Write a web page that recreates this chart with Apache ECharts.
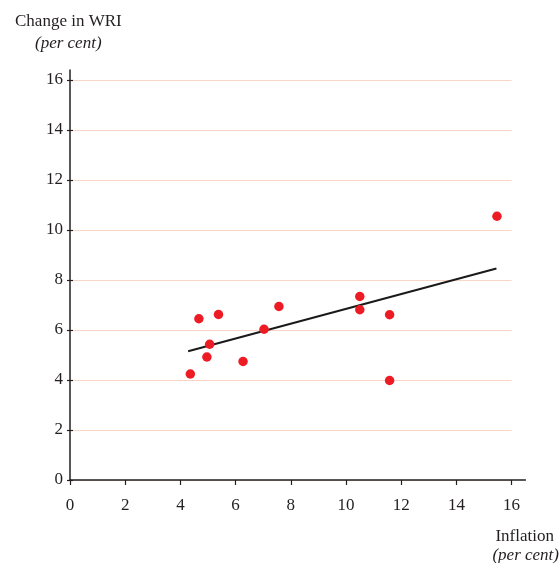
<!DOCTYPE html>
<html>
<head>
<meta charset="utf-8">
<script src="https://cdn.jsdelivr.net/npm/echarts@6/dist/echarts.min.js"></script>
<style>html,body{margin:0;padding:0;background:#fff;}#c{width:559px;height:563px;}</style>
</head>
<body>
<div id="c"></div>
<script>
const inflation = [4.36, 4.67, 4.96, 5.06, 5.38, 6.27, 7.03, 7.57, 10.50, 10.50, 11.58, 11.58, 15.47];
const wriChange = [4.24, 6.45, 4.92, 5.43, 6.62, 4.74, 6.03, 6.94, 7.34, 6.81, 6.61, 3.98, 10.55];
const trendX = [4.28, 15.45];
const trendY = [5.15, 8.46];
const xTicks = [0, 2, 4, 6, 8, 10, 12, 14, 16];
const yTicks = [0, 2, 4, 6, 8, 10, 12, 14, 16];

const FONT = "'Liberation Serif', 'Times New Roman', serif";
const AXIS = '#231f20';
const GRID = '#f7d6c8';

const points = inflation.map((x, i) => [x, wriChange[i]]);
const trend = trendX.map((x, i) => [x, trendY[i]]);

const chart = echarts.init(document.getElementById('c'), null, {renderer: 'canvas'});
chart.setOption({
  animation: false,
  backgroundColor: '#fff',
  grid: [
    {left: 70, right: 33.6, top: 70, bottom: 83, containLabel: false},
    {left: 70, width: 441.6, top: 80, bottom: 83, containLabel: false}
  ],
  xAxis: [{
    gridIndex: 0, type: 'value', min: 0, max: 16.5, z: 3,
    axisLine: {show: true, lineStyle: {color: AXIS, width: 1.5}},
    axisTick: {show: true, length: 5, lineStyle: {color: AXIS, width: 1.2}, customValues: xTicks},
    axisLabel: {color: AXIS, fontFamily: FONT, fontSize: 17, margin: 17, customValues: xTicks},
    splitLine: {show: false}
  }, {
    gridIndex: 1, type: 'value', min: 0, max: 16, interval: 2,
    axisLine: {show: false}, axisTick: {show: false}, axisLabel: {show: false},
    splitLine: {show: false}
  }],
  yAxis: [{
    gridIndex: 0, type: 'value', min: 0, max: 16.4, z: 3,
    axisLine: {show: true, lineStyle: {color: AXIS, width: 1.5}},
    axisTick: {show: true, length: 3, lineStyle: {color: AXIS, width: 1.2}, customValues: yTicks},
    axisLabel: {color: AXIS, fontFamily: FONT, fontSize: 17, margin: 7, customValues: yTicks},
    splitLine: {show: false}
  }, {
    gridIndex: 0, type: 'value', min: 0, max: 16.4, position: 'left', z: 3,
    axisLine: {show: false},
    axisTick: {show: true, inside: true, length: 3, lineStyle: {color: AXIS, width: 1.2}, customValues: yTicks},
    axisLabel: {show: false},
    splitLine: {show: false}
  }, {
    gridIndex: 1, type: 'value', min: 0, max: 16, interval: 2,
    axisLine: {show: false}, axisTick: {show: false}, axisLabel: {show: false},
    splitLine: {show: true, lineStyle: {color: GRID, width: 1}}
  }],
  series: [{
    type: 'line', xAxisIndex: 0, yAxisIndex: 0, data: trend, showSymbol: false, symbol: 'none',
    lineStyle: {color: '#1a1a1a', width: 2}, z: 3, silent: true
  }, {
    type: 'scatter', xAxisIndex: 0, yAxisIndex: 0, data: points, symbolSize: 9.5,
    itemStyle: {color: '#ed1c24', opacity: 1}, z: 4
  }],
  graphic: [
    {type: 'text', left: 15, top: 13, style: {text: 'Change in WRI', font: '17px ' + FONT, fill: AXIS}},
    {type: 'text', left: 35, top: 35, style: {text: '(per cent)', font: 'italic 17px ' + FONT, fill: AXIS}},
    {type: 'text', right: 5, top: 528, style: {text: 'Inflation', font: '17px ' + FONT, fill: AXIS}},
    {type: 'text', right: 0, top: 547, style: {text: '(per cent)', font: 'italic 17px ' + FONT, fill: AXIS}}
  ]
});
</script>
</body>
</html>
